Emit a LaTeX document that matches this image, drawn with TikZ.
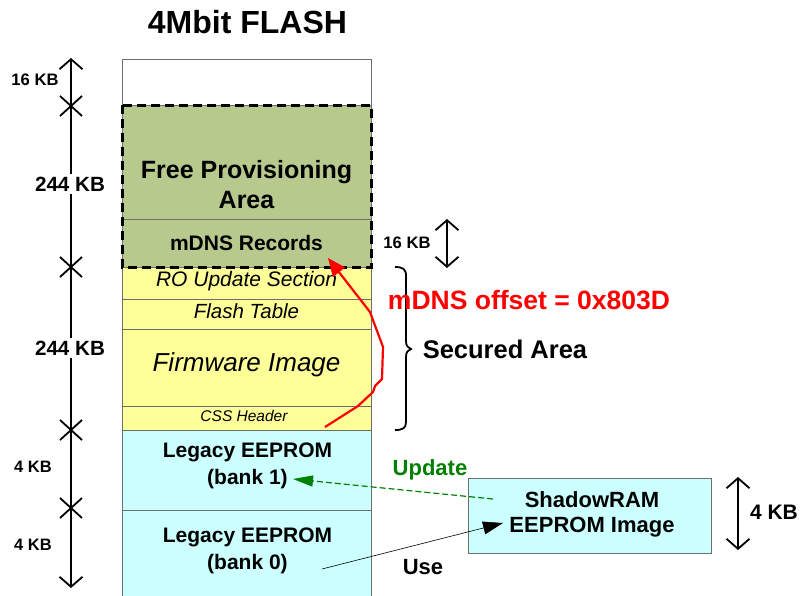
\documentclass[tikz,border=0pt]{standalone}
\usepackage{fontspec}
\setmainfont{Liberation Sans}
\usetikzlibrary{arrows.meta}
\definecolor{provgreen}{RGB}{183,201,140}
\definecolor{secyellow}{RGB}{255,255,153}
\definecolor{eecyan}{RGB}{204,255,255}
\definecolor{edgegray}{RGB}{110,110,110}
\definecolor{updgreen}{RGB}{0,128,0}
\newcommand\fsz[2]{\fontsize{#1}{#2}\selectfont}
\begin{document}
\begin{tikzpicture}[x=1pt,y=-1pt,
  blk/.style={minimum width=249pt, inner sep=0pt, outer sep=0pt, draw=edgegray, line width=0.8pt, anchor=north},
  edgeline/.style={draw=edgegray, line width=0.8pt},
  txt/.style={inner sep=0pt, align=center, font=#1},
  dashedge/.style={draw=black, line width=3pt, dash pattern=on 9pt off 5pt},
  dimline/.style={line width=1.8pt, {Straight Barb[length=10pt,width=23pt]}-{Straight Barb[length=10pt,width=23pt]}},
  xmark/.style={line width=1.8pt},
  bracestyle/.style={line width=1.8pt},
]
\useasboundingbox (0,0) rectangle (805,595);

% title
\node[txt={\fsz{32}{38}\bfseries}] (title) at (247.5,22) {4Mbit FLASH};

% memory blocks
\node[blk, fill=white, minimum height=46pt] (topfree) at (246.5,59) {};
\node[blk, fill=provgreen, minimum height=114pt] (prov) at (246.5,105) {};
\node[blk, fill=provgreen, minimum height=48pt] (mdns) at (246.5,219) {};
\node[blk, fill=secyellow, minimum height=32pt] (ro) at (246.5,267) {};
\node[blk, fill=secyellow, minimum height=30pt] (ftab) at (246.5,299) {};
\node[blk, fill=secyellow, minimum height=77pt] (fw) at (246.5,329) {};
\node[blk, fill=secyellow, minimum height=24pt] (css) at (246.5,406) {};
\node[blk, fill=eecyan, minimum height=80pt] (bank1) at (246.5,430) {};
\node[blk, fill=eecyan, draw=none, minimum height=90pt] (bank0) at (246.5,510) {};
\draw[edgeline] (bank0.south west) -- (bank0.north west) -- (bank0.north east) -- (bank0.south east);

% dashed provisioning border
\draw[dashedge] (prov.north west) rectangle (mdns.south east);

% block texts
\node[txt={\fsz{25}{30}\bfseries}] (provtxt) at (246.5,185) {Free Provisioning\\Area};
\node[txt={\fsz{21}{25}\bfseries}] (mdnstxt) at (246.5,243) {mDNS Records};
\node[txt={\fsz{21}{25}\itshape}] (rotxt) at (246.5,281) {RO Update Section};
\node[txt={\fsz{20.5}{25}\itshape}] (ftxt) at (246.5,311) {Flash Table};
\node[txt={\fsz{26}{30}\itshape}] (fwtxt) at (246.5,365) {Firmware Image};
\node[txt={\fsz{15.5}{18}\itshape}] (csstxt) at (244,416) {CSS Header};
\node[txt={\fsz{21}{27}\bfseries}] (b1txt) at (247.5,466) {Legacy EEPROM\\(bank 1)};
\node[txt={\fsz{21}{27}\bfseries}] (b0txt) at (247.5,551) {Legacy EEPROM\\(bank 0)};

% left dimension line
\coordinate (dimtop) at (71,58);
\coordinate (dimbot) at (71,588);
\draw[dimline] (dimtop) -- (dimbot);
\foreach \yy in {106,267,430,508} {
  \draw[xmark] (60,\yy-10) -- (82,\yy+10) (60,\yy+10) -- (82,\yy-10);
}
\node[txt={\fsz{16.6}{20}\bfseries}] (l16) at (35,80) {16 KB};
\node[txt={\fsz{20.6}{24}\bfseries}, fill=white, inner sep=3pt] (l244a) at (70,184) {244 KB};
\node[txt={\fsz{20.6}{24}\bfseries}, fill=white, inner sep=3pt] (l244b) at (70,348) {244 KB};
\node[txt={\fsz{16.5}{20}\bfseries}] (l4a) at (33,467) {4 KB};
\node[txt={\fsz{16.5}{20}\bfseries}] (l4b) at (33,545) {4 KB};

% right 16 KB dimension
\coordinate (r16top) at (447,219);
\coordinate (r16bot) at (447,268);
\draw[dimline] (r16top) -- (r16bot);
\node[txt={\fsz{16.6}{20}\bfseries}] (r16) at (407,243) {16 KB};

% brace for secured area
\draw[bracestyle] (395,267) .. controls (403,267) and (406,269) .. (406,276) -- (406,341)
  .. controls (406,346) and (408,348) .. (411,349)
  .. controls (408,350) and (406,352) .. (406,357) -- (406,422)
  .. controls (406,428) and (403,430) .. (395,430);
\node[txt={\fsz{25.5}{30}\bfseries}] (secured) at (505,349) {Secured Area};

% mDNS offset
\node[txt={\fsz{26.5}{30}\bfseries}, text=red] (offset) at (529,300) {mDNS offset = 0x803D};
\coordinate (redstart) at (325,427);
\coordinate (redend) at (328,258);
\draw[red, line width=2.2pt, line join=round, -{Triangle[length=18pt,width=15pt]}]
  (redstart) -- (358,406) -- (373,392) -- (375,386) -- (382,379) -- (383,347) -- (370,312) -- (redend);

% ShadowRAM box
\node[draw=edgegray, fill=eecyan, line width=0.8pt, minimum width=243pt, minimum height=75pt, inner sep=0pt] (shadow) at (589.5,515.5) {};
\node[txt={\fsz{22}{25}\bfseries}] (shadowtxt) at (592,514.5) {ShadowRAM\\EEPROM Image};

% right 4 KB dimension
\coordinate (r4top) at (738,477);
\coordinate (r4bot) at (738,550);
\draw[dimline] (r4top) -- (r4bot);
\node[txt={\fsz{21}{25}\bfseries}] (r4) at (774,512) {4 KB};

% Update arrow
\coordinate (updstart) at (493,499);
\coordinate (updend) at (293,479);
\draw[updgreen, line width=1.2pt, dash pattern=on 6pt off 3pt, -{Triangle[length=20pt,width=11pt]}] (updstart) -- (updend);
\node[txt={\fsz{22}{25}\bfseries}, text=updgreen] (updlbl) at (430,470) {Update};

% Use arrow
\coordinate (usestart) at (322,569);
\coordinate (useend) at (503,523);
\draw[black, line width=0.6pt, -{Triangle[length=20pt,width=13pt]}] (usestart) -- (useend);
\node[txt={\fsz{22}{25}\bfseries}] (uselbl) at (423,567) {Use};
\end{tikzpicture}
\end{document}
